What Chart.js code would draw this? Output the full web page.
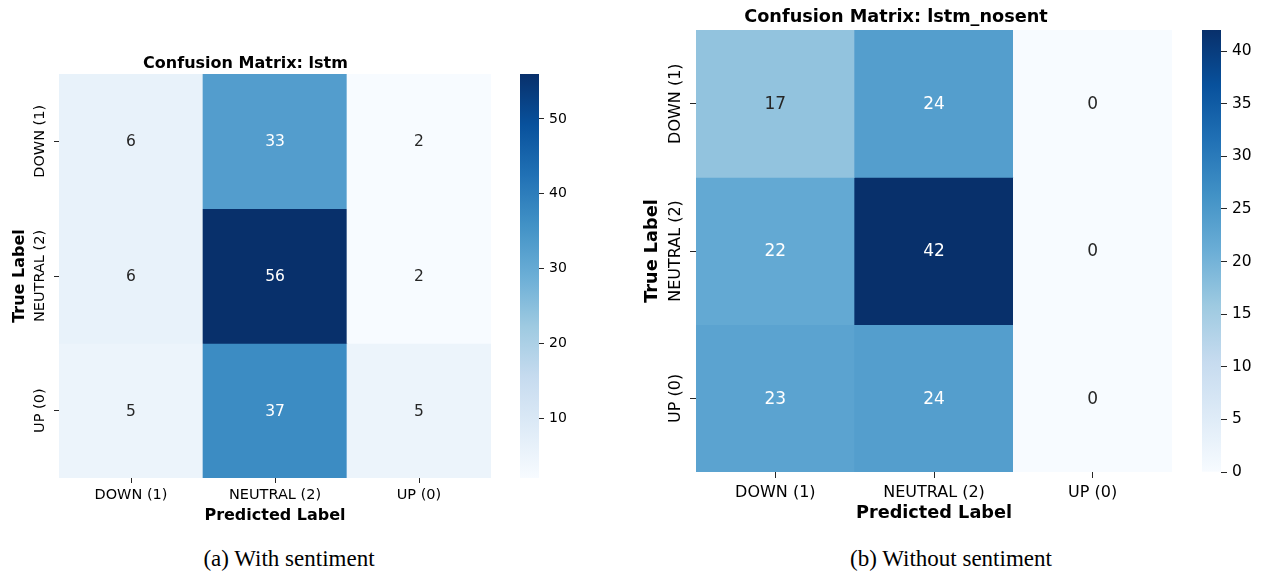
<!DOCTYPE html>
<html>
<head>
<meta charset="utf-8">
<script src="https://cdn.jsdelivr.net/npm/chart.js@4.4.0/dist/chart.umd.min.js"></script>
<style>
  body { margin: 0; background: #fff; width: 1268px; height: 576px; position: relative; overflow: hidden; }
  canvas { position: absolute; }
  .cap { position: absolute; top: 546px; font-family: "Liberation Serif", "Times New Roman", serif; font-size: 23px; line-height: 26px; color: #000; transform: translateX(-50%); white-space: nowrap; }
</style>
</head>
<body>
<canvas id="hmA" width="500" height="490" style="left:0;top:40px"></canvas>
<canvas id="cbA" width="80" height="490" style="left:500px;top:40px"></canvas>
<canvas id="hmB" width="570" height="530" style="left:620px;top:0"></canvas>
<canvas id="cbB" width="78" height="530" style="left:1190px;top:0"></canvas>
<div class="cap" style="left:289px">(a) With sentiment</div>
<div class="cap" style="left:951px">(b) Without sentiment</div>
<script>
// labels
const predLabels = ['DOWN (1)', 'NEUTRAL (2)', 'UP (0)'];
const trueLabels = ['DOWN (1)', 'NEUTRAL (2)', 'UP (0)'];

// lstm (with sentiment), one row per true label
const lstmDown    = [6, 33, 2];
const lstmNeutral = [6, 56, 2];
const lstmUp      = [5, 37, 5];

// lstm_nosent
const nosentDown    = [17, 24, 0];
const nosentNeutral = [22, 42, 0];
const nosentUp      = [23, 24, 0];

// colorbar ticks
const lstmBarTicks   = [10, 20, 30, 40, 50];
const nosentBarTicks = [0, 5, 10, 15, 20, 25, 30, 35, 40];

const FONT = 'DejaVu Sans';
const DARK = '#262626';

// matplotlib "Blues"
const BLUES = ['#f7fbff','#deebf7','#c6dbef','#9ecae1','#6baed6','#4292c6','#2171b5','#08519c','#08306b'];
function hexRgb(h) { return [1,3,5].map(i => parseInt(h.substr(i,2),16)); }
function blues(t) {
  t = Math.max(0, Math.min(1, t));
  let p = t * 8, i = Math.min(7, Math.floor(p)), f = p - i;
  let a = hexRgb(BLUES[i]), b = hexRgb(BLUES[i+1]);
  return a.map((v, k) => Math.round(v + (b[k]-v)*f));
}
function lum(rgb) {
  const c = rgb.map(v => { v /= 255; return v <= 0.03928 ? v/12.92 : Math.pow((v+0.055)/1.055, 2.4); });
  return 0.2126*c[0] + 0.7152*c[1] + 0.0722*c[2];
}

const cellText = {
  id: 'cellText',
  afterDatasetsDraw(chart, args, opts) {
    const ctx = chart.ctx;
    ctx.save();
    ctx.textAlign = 'center';
    ctx.textBaseline = 'middle';
    ctx.font = opts.size + 'px "' + FONT + '"';
    chart.data.datasets.forEach((ds, r) => {
      chart.getDatasetMeta(r).data.forEach((el, c) => {
        const p = el.getCenterPoint();
        const rgb = blues((ds.counts[c] - opts.vmin) / (opts.vmax - opts.vmin));
        ctx.fillStyle = lum(rgb) > 0.408 ? DARK : '#fff';
        ctx.fillText(String(ds.counts[c]), p.x, p.y + 1);
      });
    });
    // rotated y tick labels
    const ys = chart.scales.y;
    ctx.fillStyle = '#000';
    ctx.font = opts.tickSize + 'px "' + FONT + '"';
    ys.ticks.forEach((t, i) => {
      ctx.save();
      ctx.translate(opts.labelX, ys.getPixelForValue(t.value));
      ctx.rotate(-Math.PI / 2);
      ctx.fillText(trueLabels[i], 0, 0);
      ctx.restore();
    });
    ctx.restore();
  }
};

function heatmap(id, title, rows, cfg) {
  const all = rows.flat();
  const vmin = Math.min(...all), vmax = Math.max(...all);
  const datasets = rows.map((row, r) => ({
    counts: row,
    data: row.map(() => [r, r + 1]),
    backgroundColor: row.map(v => 'rgb(' + blues((v - vmin) / (vmax - vmin)).join(',') + ')'),
    borderWidth: 0,
    grouped: false,
    barPercentage: 1,
    categoryPercentage: 1
  }));
  new Chart(document.getElementById(id), {
    type: 'bar',
    data: { labels: predLabels, datasets: datasets },
    plugins: [cellText],
    options: {
      responsive: false,
      animation: false,
      layout: { padding: { left: 0, right: cfg.padRight, top: 0, bottom: 0 } },
      plugins: {
        legend: { display: false },
        tooltip: { enabled: false },
        title: {
          display: true, text: title, color: '#000',
          font: { family: FONT, size: cfg.titleSize, weight: 'bold', lineHeight: 1 },
          padding: { top: cfg.titleTop, bottom: cfg.titleBottom }
        },
        cellText: { size: cfg.annSize, tickSize: cfg.tickSize, labelX: cfg.labelX, vmin: vmin, vmax: vmax }
      },
      scales: {
        x: {
          type: 'category',
          grid: { offset: false, drawOnChartArea: false, drawTicks: true, tickLength: cfg.tickLen, color: DARK },
          border: { display: false },
          ticks: { color: '#000', font: { family: FONT, size: cfg.tickSize }, padding: cfg.xTickPad, maxRotation: 0 },
          title: { display: true, text: 'Predicted Label', color: '#000',
                   font: { family: FONT, size: cfg.axisSize, weight: 'bold' }, padding: { top: 0, bottom: cfg.xTitlePad } },
          afterFit: s => { s.height = cfg.xAxisH; }
        },
        y: {
          type: 'linear', min: 0, max: 3, reverse: true,
          afterBuildTicks: s => { s.ticks = trueLabels.map((_, i) => ({ value: i + 0.5 })); },
          grid: { drawOnChartArea: false, drawTicks: true, tickLength: cfg.tickLen, color: DARK },
          border: { display: false },
          ticks: { display: false },
          title: { display: true, text: 'True Label', color: '#000',
                   font: { family: FONT, size: cfg.axisSize, weight: 'bold' }, padding: { top: cfg.yTitlePad, bottom: 0 } },
          afterFit: s => { s.width = cfg.yAxisW; }
        }
      }
    }
  });
  return [vmin, vmax];
}

function colorbar(id, range, tickVals, cfg) {
  new Chart(document.getElementById(id), {
    type: 'bar',
    data: {
      labels: [''],
      datasets: [{
        data: [range],
        borderWidth: 0,
        barPercentage: 1,
        categoryPercentage: 1,
        backgroundColor: c => {
          const a = c.chart.chartArea;
          if (!a) return BLUES[0];
          const g = c.chart.ctx.createLinearGradient(0, a.bottom, 0, a.top);
          BLUES.forEach((col, i) => g.addColorStop(i / 8, col));
          return g;
        }
      }]
    },
    options: {
      responsive: false,
      animation: false,
      layout: { padding: { left: cfg.padLeft, right: 0, top: cfg.padTop, bottom: cfg.padBottom } },
      plugins: { legend: { display: false }, tooltip: { enabled: false } },
      scales: {
        x: { display: false },
        y: {
          position: 'right', min: range[0], max: range[1],
          afterBuildTicks: s => { s.ticks = tickVals.map(v => ({ value: v })); },
          grid: { drawOnChartArea: false, drawTicks: true, tickLength: cfg.tickLen, color: DARK },
          border: { display: false },
          ticks: { color: '#000', font: { family: FONT, size: cfg.tickSize }, padding: cfg.tickPad },
          afterFit: s => { s.width = cfg.axisW; }
        }
      }
    }
  });
}

const rA = heatmap('hmA', 'Confusion Matrix: lstm', [lstmDown, lstmNeutral, lstmUp], {
  padRight: 9, titleSize: 16, titleTop: 16, titleBottom: 2,
  annSize: 15.5, tickSize: 14.5, axisSize: 16, labelX: 40,
  tickLen: 5, xTickPad: 4, xTitlePad: 5, xAxisH: 52, yTitlePad: 10.5, yAxisW: 59
});
colorbar('cbA', rA, lstmBarTicks, { padLeft: 20, padTop: 34, padBottom: 52, tickLen: 5, tickSize: 14, tickPad: 5, axisW: 41 });

const rB = heatmap('hmB', 'Confusion Matrix: lstm_nosent', [nosentDown, nosentNeutral, nosentUp], {
  padRight: 18, titleSize: 17.7, titleTop: 8.5, titleBottom: 3.8,
  annSize: 17, tickSize: 16, axisSize: 17.7, labelX: 55.5,
  tickLen: 6, xTickPad: 5, xTitlePad: 5.5, xAxisH: 58, yTitlePad: 22, yAxisW: 76
});
colorbar('cbB', rB, nosentBarTicks, { padLeft: 12, padTop: 30, padBottom: 58, tickLen: 6, tickSize: 15.5, tickPad: 5, axisW: 47 });
</script>
</body>
</html>
